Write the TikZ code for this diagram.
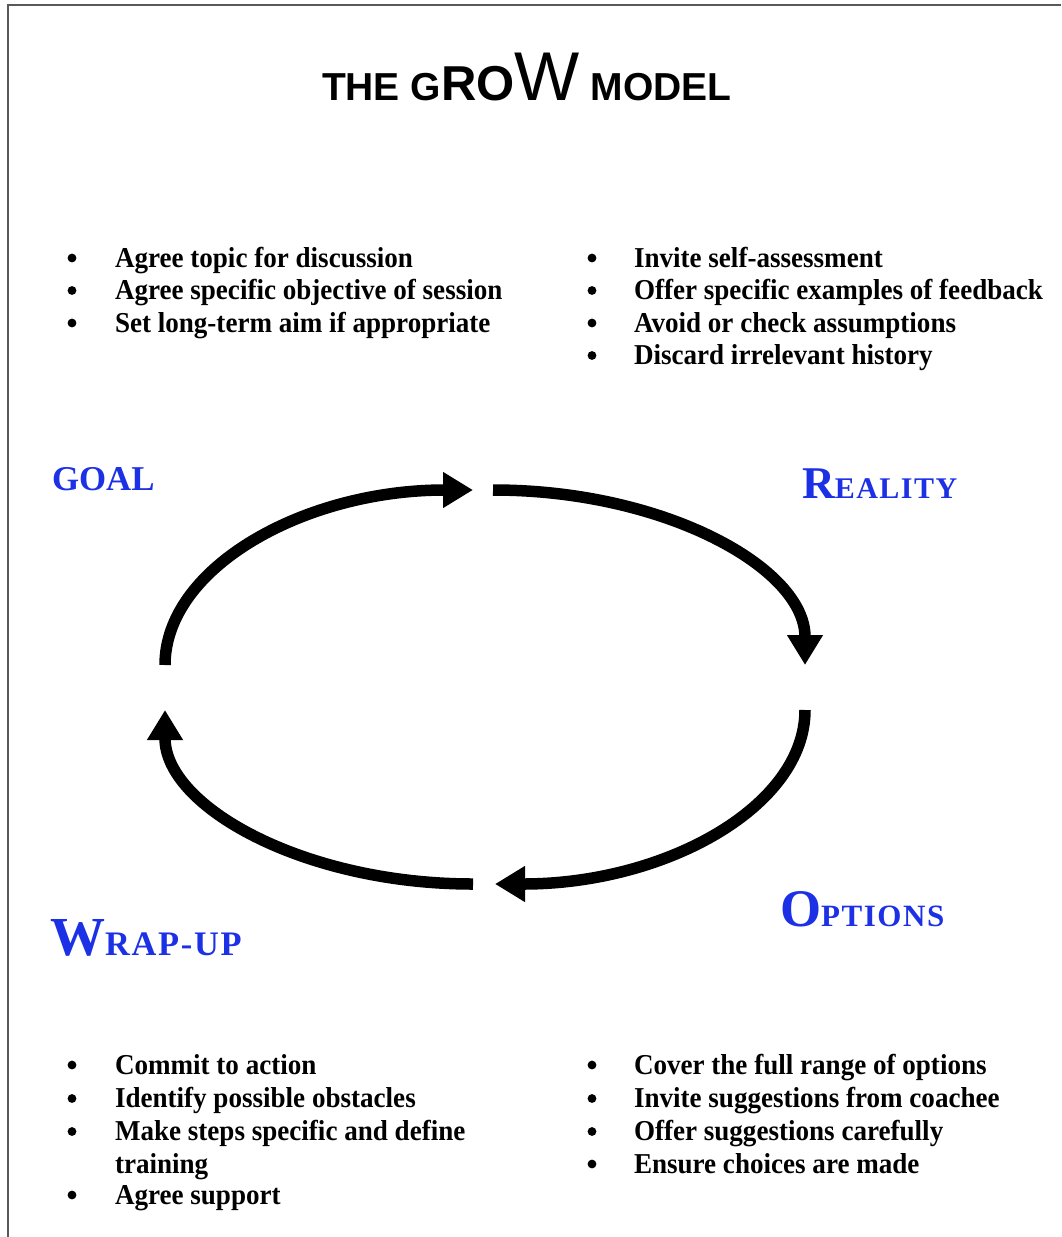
\documentclass[tikz,border=0pt]{standalone}
\usepackage{fontspec}
\usetikzlibrary{arrows.meta}
\newfontfamily\growtitlefont{Liberation Sans}
\newfontfamily\growheadfont{Liberation Serif}
\newfontfamily\growbodyfont[FakeStretch=0.94]{Liberation Serif}
\definecolor{GrowInk}{gray}{0.0}
\definecolor{GrowBlue}{RGB}{28,48,230}
\definecolor{GrowFrame}{gray}{0.35}
% letters of two sizes, as in the stage names
\newcommand\growcaps[4]{{\fontsize{#1}{#1}\selectfont #2}{\fontsize{#3}{#3}\selectfont\addfontfeature{LetterSpace=5}#4}}
\tikzset{
    grow/diagram/.style={
        x=0.5pt, y=-0.5pt,
        every node/.style={inner sep=0pt, outer sep=0pt}
    },
    grow/frame/.style={draw=GrowFrame, line width=1pt},
    grow/cycle/.style={
        draw=GrowInk, line width=5.75pt, line cap=butt,
        -{Triangle[length=15pt, width=17pt]}
    },
    grow/title/.style={font=\growtitlefont\bfseries, anchor=base west},
    grow/stage/.style={text=GrowBlue, font=\growheadfont\bfseries, anchor=base west},
    grow/item/.style={
        font=\growbodyfont\bfseries\fontsize{14.4}{16.25}\selectfont,
        anchor=base west, align=left
    },
    grow/bullet/.style={circle, fill=GrowInk, draw=none, minimum size=4.4pt}
}

\begin{document}
\begin{tikzpicture}[grow/diagram]
    \useasboundingbox (0,0) rectangle (1061,1237);
    \draw[grow/frame] (8,1237) -- (8,5) -- (1061,5);
    \node[grow/title] (title) at (322,100)
        {{\fontsize{19.5}{20}\selectfont THE G}{\fontsize{24.5}{25}\selectfont RO}{\fontsize{34.5}{35}\selectfont\mdseries W}{\fontsize{19.5}{20}\selectfont\ MODEL}};

    % stage names
    \node[grow/stage] (goal) at (52,490) {\growcaps{17.4}{GOAL}{17.4}{}};
    \node[grow/stage] (reality) at (802,498) {\growcaps{22.7}{R}{15}{EALITY}};
    \node[grow/stage] (options) at (780,926) {\growcaps{26.4}{O}{15.5}{PTIONS}};
    \node[grow/stage] (wrapup) at (50,955) {\growcaps{27.5}{W}{17.2}{RAP-UP}};

    % the cycle
    \coordinate (goal-out) at (165,665);
    \coordinate (reality-in) at (493,490);
    \coordinate (options-in) at (805,710);
    \coordinate (wrapup-in) at (473,884);
    \draw[grow/cycle] (goal-out) arc[start angle=180, end angle=270, x radius=308, y radius=175];
    \draw[grow/cycle] (reality-in) arc[start angle=270, end angle=360, x radius=312, y radius=175];
    \draw[grow/cycle] (options-in) arc[start angle=0, end angle=90, x radius=310, y radius=174];
    \draw[grow/cycle] (wrapup-in) arc[start angle=90, end angle=180, x radius=308, y radius=174];

    % goal
    \node[grow/bullet] (g1b) at (72,258) {};
    \node[grow/item] (g1) at (115,267) {Agree topic for discussion};
    \node[grow/bullet] (g2b) at (72,290.5) {};
    \node[grow/item] (g2) at (115,299.5) {Agree specific objective of session};
    \node[grow/bullet] (g3b) at (72,323) {};
    \node[grow/item] (g3) at (115,332) {Set long-term aim if appropriate};

    % reality
    \node[grow/bullet] (r1b) at (592,258) {};
    \node[grow/item] (r1) at (634,267) {Invite self-assessment};
    \node[grow/bullet] (r2b) at (592,290.5) {};
    \node[grow/item] (r2) at (634,299.5) {Offer specific examples of feedback};
    \node[grow/bullet] (r3b) at (592,323) {};
    \node[grow/item] (r3) at (634,332) {Avoid or check assumptions};
    \node[grow/bullet] (r4b) at (592,355.5) {};
    \node[grow/item] (r4) at (634,364.5) {Discard irrelevant history};

    % wrap-up
    \node[grow/bullet] (w1b) at (72,1065) {};
    \node[grow/item] (w1) at (115,1074) {Commit to action};
    \node[grow/bullet] (w2b) at (72,1098.5) {};
    \node[grow/item] (w2) at (115,1107.5) {Identify possible obstacles};
    \node[grow/bullet] (w3b) at (72,1131.5) {};
    \node[grow/item] (w3) at (115,1173) {Make steps specific and define\\training};
    \node[grow/bullet] (w4b) at (72,1195) {};
    \node[grow/item] (w4) at (115,1204) {Agree support};

    % options
    \node[grow/bullet] (o1b) at (592,1065) {};
    \node[grow/item] (o1) at (634,1074) {Cover the full range of options};
    \node[grow/bullet] (o2b) at (592,1098.5) {};
    \node[grow/item] (o2) at (634,1107.5) {Invite suggestions from coachee};
    \node[grow/bullet] (o3b) at (592,1131.5) {};
    \node[grow/item] (o3) at (634,1140.5) {Offer suggestions carefully};
    \node[grow/bullet] (o4b) at (592,1164) {};
    \node[grow/item] (o4) at (634,1173) {Ensure choices are made};
\end{tikzpicture}
\end{document}
